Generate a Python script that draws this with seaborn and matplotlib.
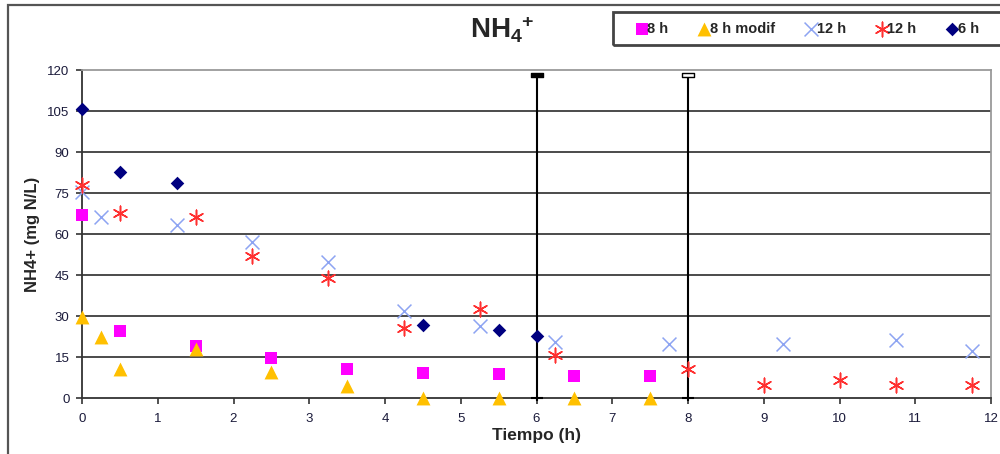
import numpy as np
import pandas as pd
import matplotlib
matplotlib.use("Agg")
import matplotlib.pyplot as plt
from matplotlib.patches import Rectangle
from matplotlib.path import Path
import seaborn as sns

# ---- data -------------------------------------------------------------
t_8h = [0, 0.5, 1.5, 2.5, 3.5, 4.5, 5.5, 6.5, 7.5]
nh4_8h = [67, 24.5, 19, 14.5, 10.6, 9.1, 8.8, 8.2, 8.2]

t_8h_mod = [0, 0.25, 0.5, 1.5, 2.5, 3.5, 4.5, 5.5, 6.5, 7.5]
nh4_8h_mod = [29.5, 22.3, 10.6, 17.8, 9.6, 4.3, 0, 0, 0, 0]

t_12h_a = [0, 0.25, 1.25, 2.25, 3.25, 4.25, 5.25, 6.25, 7.75, 9.25, 10.75, 11.75]
nh4_12h_a = [75.3, 66.3, 63.3, 57.2, 49.7, 32, 26.5, 20.5, 19.8, 19.6, 21.3, 17.2]

t_12h_b = [0, 0.5, 1.5, 2.25, 3.25, 4.25, 5.25, 6.25, 8, 9, 10, 10.75, 11.75]
nh4_12h_b = [77.9, 67.8, 66.2, 51.8, 43.9, 25.6, 32.7, 15.8, 10.5, 4.8, 6.7, 4.8, 4.8]

t_6h = [0, 0.5, 1.25, 4.5, 5.5, 6]
nh4_6h = [105.7, 82.7, 78.6, 26.7, 24.8, 22.8]

# cycle end markers (time, upper value)
cycle_times = [6, 8]
cycle_top = [118, 118]

y_ticks = list(range(0, 121, 15))
x_ticks = list(range(0, 13))

# ---- style ------------------------------------------------------------
sns.set_theme(style="white")
plt.rcParams["font.family"] = ["Liberation Sans", "DejaVu Sans"]
plt.rcParams["mathtext.fontset"] = "custom"
plt.rcParams["mathtext.rm"] = "Liberation Sans"
plt.rcParams["mathtext.bf"] = "Liberation Sans:bold"
plt.rcParams["mathtext.it"] = "Liberation Sans:italic"

fig = plt.figure(figsize=(10, 4.54), dpi=100)
ax = fig.add_axes([0.082, 0.1233, 0.909, 0.7225])

# horizontal grid (top line is the frame)
ax.hlines(y_ticks[1:-1], 0, 12, colors="#1a1a1a", lw=1.1, zorder=1)

# vertical cycle markers with caps
rect = Path([(-1, -0.4), (1, -0.4), (1, 0.4), (-1, 0.4), (-1, -0.4)],
            [Path.MOVETO, Path.LINETO, Path.LINETO, Path.LINETO, Path.CLOSEPOLY])
for i, (xc, top) in enumerate(zip(cycle_times, cycle_top)):
    ax.vlines(xc, -1.2, top, colors="black", lw=1.5, zorder=2, clip_on=False)
    ax.plot([xc], [top], marker=rect, ms=8, mew=1.0, mec="black",
            mfc="black" if i == 0 else "white", zorder=3, clip_on=False)
    ax.plot([xc], [0], marker="_", ms=8, mew=1.5, color="black",
            zorder=3, clip_on=False)

asterisk = (6, 2, 0)
sns.scatterplot(x=t_8h, y=nh4_8h, marker="s", color="#FF00FF", s=85,
                linewidth=0, label="8 h", ax=ax, zorder=4, clip_on=False)
sns.scatterplot(x=t_8h_mod, y=nh4_8h_mod, marker="^", color="#FFC000", s=100,
                linewidth=0, label="8 h modif", ax=ax, zorder=4, clip_on=False)
sns.scatterplot(x=t_12h_a, y=nh4_12h_a, marker="x", color="#8DA4F2", s=100,
                linewidth=1.1, label="12 h", ax=ax, zorder=4, clip_on=False)
sns.scatterplot(x=t_12h_b, y=nh4_12h_b, marker=asterisk, color="#FF3030", s=110,
                linewidth=1.1, label="12 h", ax=ax, zorder=4, clip_on=False)
sns.scatterplot(x=t_6h, y=nh4_6h, marker="D", color="#000080", s=48,
                linewidth=0, label="6 h", ax=ax, zorder=4, clip_on=False)

ax.set_xlim(0, 12)
ax.set_ylim(0, 120)
ax.set_xticks(x_ticks)
ax.set_yticks(y_ticks)
ax.tick_params(axis="both", which="major", direction="out", length=4,
               width=1.1, color="#222", labelsize=9.5, labelcolor="#1a1a3a",
               left=True, bottom=True)
ax.tick_params(axis="y", pad=5)
ax.tick_params(axis="x", pad=7)

for side in ("left", "bottom"):
    ax.spines[side].set_color("#333333")
    ax.spines[side].set_linewidth(1.3)
for side in ("top", "right"):
    ax.spines[side].set_color("#9a9a9a")
    ax.spines[side].set_linewidth(1.3)

ax.set_xlabel("Tiempo (h)", fontsize=12.5, fontweight="bold", labelpad=2)
ax.set_ylabel("NH4+ (mg N/L)", fontsize=12, fontweight="bold", labelpad=5)

fig.text(0.47, 0.935, r"$\mathbf{NH_4{}\!^+}$", fontsize=20, ha="left",
         va="center")

# legend in a framed strip at the top right
leg = ax.legend(ncol=5, loc="center left", bbox_to_anchor=(0.624, 0.937),
                bbox_transform=fig.transFigure, frameon=False,
                handletextpad=0.1, columnspacing=2.15, handlelength=0.6,
                prop={"weight": "bold", "size": 10.5})
fig.add_artist(Rectangle((0.613, 1 - 45 / 454), 0.45, 33 / 454,
                         transform=fig.transFigure, fill=False,
                         ec="#444444", lw=2, clip_on=False))

# outer chart frame
fig.add_artist(Rectangle((0.008, -0.05), 1.2, 1.039,
                         transform=fig.transFigure, fill=False,
                         ec="#555555", lw=1.6, clip_on=False))

fig.savefig("out.png", dpi=100)
